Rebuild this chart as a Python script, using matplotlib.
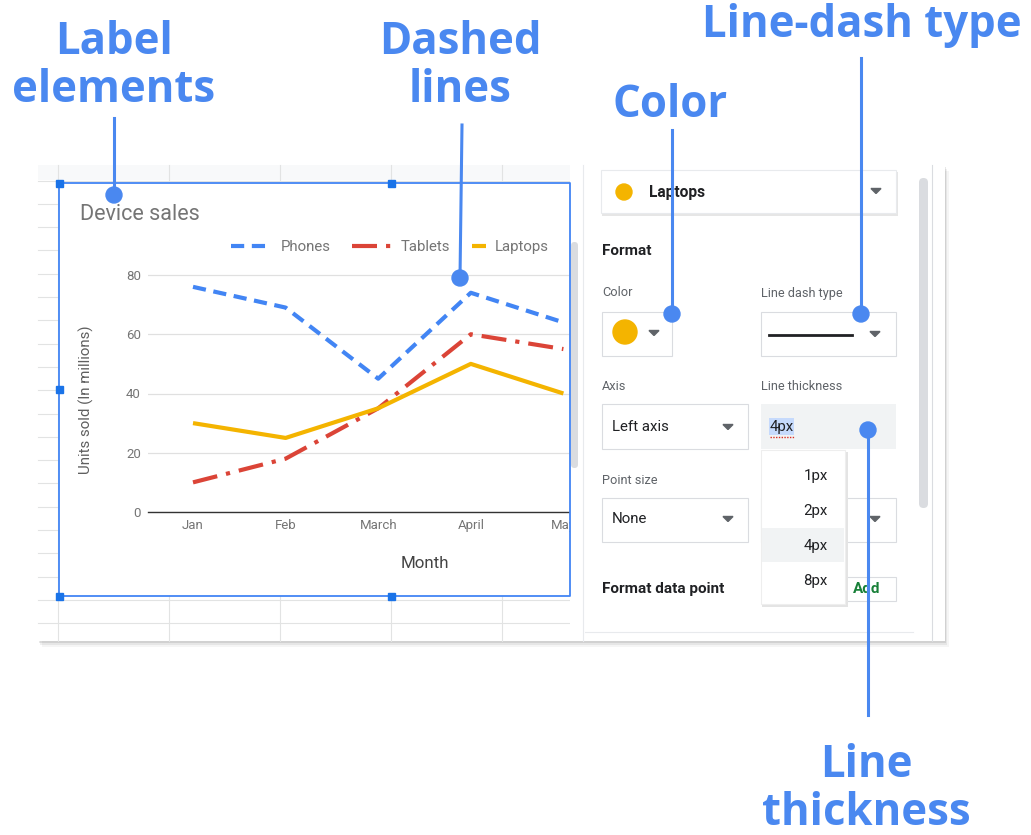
import matplotlib
matplotlib.use("Agg")
from matplotlib import pyplot as plt
from matplotlib.patches import Rectangle, Circle, Polygon, FancyBboxPatch
from matplotlib.legend_handler import HandlerLine2D

plt.rcParams['font.family'] = ['Roboto', 'DejaVu Sans']
plt.rcParams['lines.scale_dashes'] = False

# chart data
months = ["Jan", "Feb", "March", "April", "May"]
phones = [76, 69, 45, 74, 64]
tablets = [10, 18, 35, 60, 55]
laptops = [30, 25, 35, 50, 40]
y_ticks = [0, 20, 40, 60, 80]

# values in the side panel
series_names = ["Phones", "Tablets", "Laptops"]
thickness_options = ["1px", "2px", "4px", "8px"]

BLUE = "#4285f4"
RED = "#db4437"
YELLOW = "#f4b400"
CALLOUT = "#4a88f0"
W, H = 1031, 835

fig = plt.figure(figsize=(W / 100, H / 100), dpi=100)


def fx(x):
    return x / W


def fy(y):
    return 1 - y / H


def box(ax, x0, y0, x1, y1, fc="white", ec="#dadce0", lw=0.8, z=3):
    ax.add_patch(Rectangle((x0, y0), x1 - x0, y1 - y0, fc=fc, ec=ec, lw=lw, zorder=z))


def rbox(ax, x0, y0, x1, y1, fc, r=4, z=2):
    ax.add_patch(FancyBboxPatch((x0 + r, y0 + r), x1 - x0 - 2 * r, y1 - y0 - 2 * r,
                                boxstyle="round,pad=%g" % r, fc=fc, ec="none", zorder=z))


def tri(ax, x, y, z=5):
    ax.add_patch(Polygon([(x - 5, y - 2.5), (x + 5, y - 2.5), (x, y + 2.5)],
                         closed=True, color="#5f6368", zorder=z))


# solid series gets a short legend sample, like the Sheets chart
class ShortHandle(HandlerLine2D):
    def legend_artist(self, legend, orig_handle, fontsize, handlebox):
        handlebox.width = 14 * 0.72
        return super().legend_artist(legend, orig_handle, fontsize, handlebox)


# background: spreadsheet grid
bg = fig.add_axes([0, 0, 1, 1])
bg.set_xlim(0, W)
bg.set_ylim(H, 0)
bg.axis("off")

# drop shadow of the screenshot
for i, a in enumerate([0.04, 0.06, 0.09]):
    d = 6 - i * 2
    box(bg, 38 + d * 0.6, 165 + d, 945 + d * 0.6, 641 + d, fc="#000000", ec="none", z=0)
    bg.patches[-1].set_alpha(a)
box(bg, 38, 165, 945, 641, fc="white", ec="none", z=1)
box(bg, 38, 165, 580, 180, fc="#f8f9fa", ec="none", z=1)
for x in [57.5, 169, 280, 391, 502]:
    bg.plot([x, x], [165, 641], color="#e2e3e3", lw=0.8, zorder=2)
y = 180.5
while y < 641:
    bg.plot([38, 580], [y, y], color="#e2e3e3", lw=0.8, zorder=2)
    y += 23.3

# chart card
box(bg, 59, 183, 575, 596, fc="white", ec="none", z=3)

# the line chart
ax = fig.add_axes([fx(148), fy(512), fx(570 - 148), (512 - 265) / H])
ax.patch.set_visible(False)
x = list(range(len(months)))
ax.plot(x, phones, color=BLUE, lw=3, dashes=(9.5, 5.5), label=series_names[0])
ax.plot(x, tablets, color=RED, lw=3, dashes=(18, 6.5, 3, 6.5), label=series_names[1])
laptop_line, = ax.plot(x, laptops, color=YELLOW, lw=3, solid_capstyle="butt", label=series_names[2])
ax.set_xlim((148 - 193) / 92.6, (570 - 193) / 92.6)
ax.set_ylim(0, 80 * 247 / 237)
ax.set_yticks(y_ticks)
ax.set_xticks(x)
ax.set_xticklabels(months)
ax.grid(axis="y", color="#e0e0e0", lw=0.9)
ax.set_axisbelow(True)
for s in ["top", "right", "left"]:
    ax.spines[s].set_visible(False)
ax.spines["bottom"].set_color("#333333")
ax.spines["bottom"].set_linewidth(1.0)
ax.tick_params(axis="both", length=0, labelsize=9.5, labelcolor="#757575")
ax.tick_params(axis="y", pad=5)
ax.tick_params(axis="x", pad=5)
ax.set_ylabel("Units sold (In millions)", fontsize=10.8, color="#5f5f5f")
ax.yaxis.set_label_coords((94 - 148) / 422, (512 - 400) / 247)
ax.set_xlabel("Month", fontsize=12.2, color="#444444")
ax.xaxis.set_label_coords((425 - 148) / 422, (512 - 556) / 247)
ax.text((80 - 148) / 422, (512 - 214) / 247, "Device sales", transform=ax.transAxes,
        fontsize=15.5, color="#757575", va="center", ha="left")
ax.legend(loc="center left", bbox_to_anchor=(fx(231), fy(247)), bbox_transform=fig.transFigure,
          ncol=3, frameon=False, fontsize=10.8, handlelength=2.7, handletextpad=0.6,
          columnspacing=1.4, borderpad=0, borderaxespad=0, labelcolor="#757575",
          handler_map={laptop_line: ShortHandle()})

# overlay: side panel, selection frame and callouts
ov = fig.add_axes([0, 0, 1, 1])
ov.set_xlim(0, W)
ov.set_ylim(H, 0)
ov.axis("off")
ov.patch.set_visible(False)

# side panel
box(ov, 570, 165, 944, 641, fc="white", ec="none", z=1)
ov.plot([583, 583], [165, 641], color="#e8eaed", lw=0.8, zorder=2)
ov.plot([932, 932], [165, 641], color="#dadce0", lw=0.8, zorder=2)
rbox(ov, 571, 242, 578, 468, "#dadce0", r=3.5)
rbox(ov, 919, 178, 928, 508, "#dadce0", r=4.5)

# series selector card
box(ov, 602, 172, 898, 216, fc="#e6e6e6", ec="none", z=2)
box(ov, 601, 170, 896, 213, fc="white", ec="#e8eaed", z=3)
ov.add_patch(Circle((624, 192), 8, color=YELLOW, zorder=4))
ov.text(649, 192, series_names[2], fontsize=11.2, fontweight="bold", color="#202124", va="center", zorder=4)
tri(ov, 876, 191)

ov.text(602, 251, "Format", fontsize=11, fontweight="bold", color="#202124", va="center", zorder=4)
lab = dict(fontsize=9.2, color="#5f6368", va="center", zorder=4)
ov.text(602, 293, "Color", **lab)
ov.text(761, 294, "Line dash type", **lab)
ov.text(602, 387, "Axis", **lab)
ov.text(761, 387, "Line thickness", **lab)
ov.text(602, 480, "Point size", **lab)

box(ov, 602, 312, 672, 356)
ov.add_patch(Circle((625, 332), 12, color=YELLOW, zorder=4))
tri(ov, 654, 333)
box(ov, 761, 312, 896, 356)
ov.plot([769, 852], [335, 335], color="#202124", lw=2, zorder=4)
tri(ov, 875, 334)

box(ov, 602, 404, 748, 449)
ov.text(612, 427, "Left axis", fontsize=10.8, color="#202124", va="center", zorder=4)
tri(ov, 728, 427)
box(ov, 761, 404, 896, 449, fc="#f1f3f4", ec="none")
ov.add_patch(Rectangle((769, 418), 25, 17, fc="#c6dafc", ec="none", zorder=4))
ov.text(770, 427, thickness_options[2], fontsize=10.8, color="#202124", va="center", zorder=5)
ov.plot([770, 794], [436.5, 436.5], color="#d93025", lw=1, ls=(0, (1, 1)), zorder=5)

box(ov, 602, 498, 748, 542)
ov.text(612, 519, "None", fontsize=10.8, color="#202124", va="center", zorder=4)
tri(ov, 728, 519)
box(ov, 761, 498, 896, 542)
tri(ov, 875, 519)

ov.text(602, 589, "Format data point", fontsize=11, fontweight="bold", color="#202124", va="center", zorder=4)
box(ov, 846, 577, 896, 601)
ov.text(867, 589, "Add", fontsize=11, fontweight="bold", color="#188038", va="center", ha="center", zorder=4)
ov.plot([585, 913], [632, 632], color="#e8eaed", lw=0.8, zorder=2)

# thickness dropdown menu
box(ov, 762, 452, 848, 607, fc="#e4e4e4", ec="none", z=6)
box(ov, 761, 450, 845, 604, fc="white", ec="#eeeeee", z=7)
ov.add_patch(Rectangle((762, 528), 82, 34, fc="#f1f3f4", ec="none", zorder=7))
for i, t in enumerate(thickness_options):
    ov.text(828, 476 + i * 35, t, fontsize=10.8, color="#202124", va="center", ha="right", zorder=8)

# chart selection frame
ov.plot([59, 570, 570, 59, 59], [183, 183, 596, 596, 183], color="#4285f4", lw=1.3, zorder=3)
for hx, hy in [(59, 183), (391, 183), (59, 389), (59, 596), (391, 596)]:
    ov.add_patch(Rectangle((hx - 3.5, hy - 3.5), 7, 7, color="#1a73e8", zorder=4))

# callouts
ct = dict(fontsize=31.5, fontweight="bold", family=["Open Sans", "DejaVu Sans"], color=CALLOUT,
          ha="center", va="baseline", linespacing=1.08, zorder=10)
ov.text(114, 101.7, "Label\nelements", **ct)
ov.text(460, 101.7, "Dashed\nlines", **ct)
ov.text(670, 117, "Color", **ct)
ov.text(862, 36.7, "Line-dash type", **ct)
ov.text(866, 825, "Line\nthickness", **ct)
for x0, y0, x1, y1 in [(114, 118, 114, 195), (462, 125, 460, 278), (672, 130, 672, 314),
                       (861, 58, 861, 314), (868, 430, 868, 715)]:
    ov.plot([x0, x1], [y0, y1], color=CALLOUT, lw=2.2, zorder=10)
for cx, cy in [(114, 195), (460, 278), (672, 314), (861, 314), (868, 430)]:
    ov.add_patch(Circle((cx, cy), 8, color=CALLOUT, zorder=11))

fig.savefig("out.png", dpi=100)
